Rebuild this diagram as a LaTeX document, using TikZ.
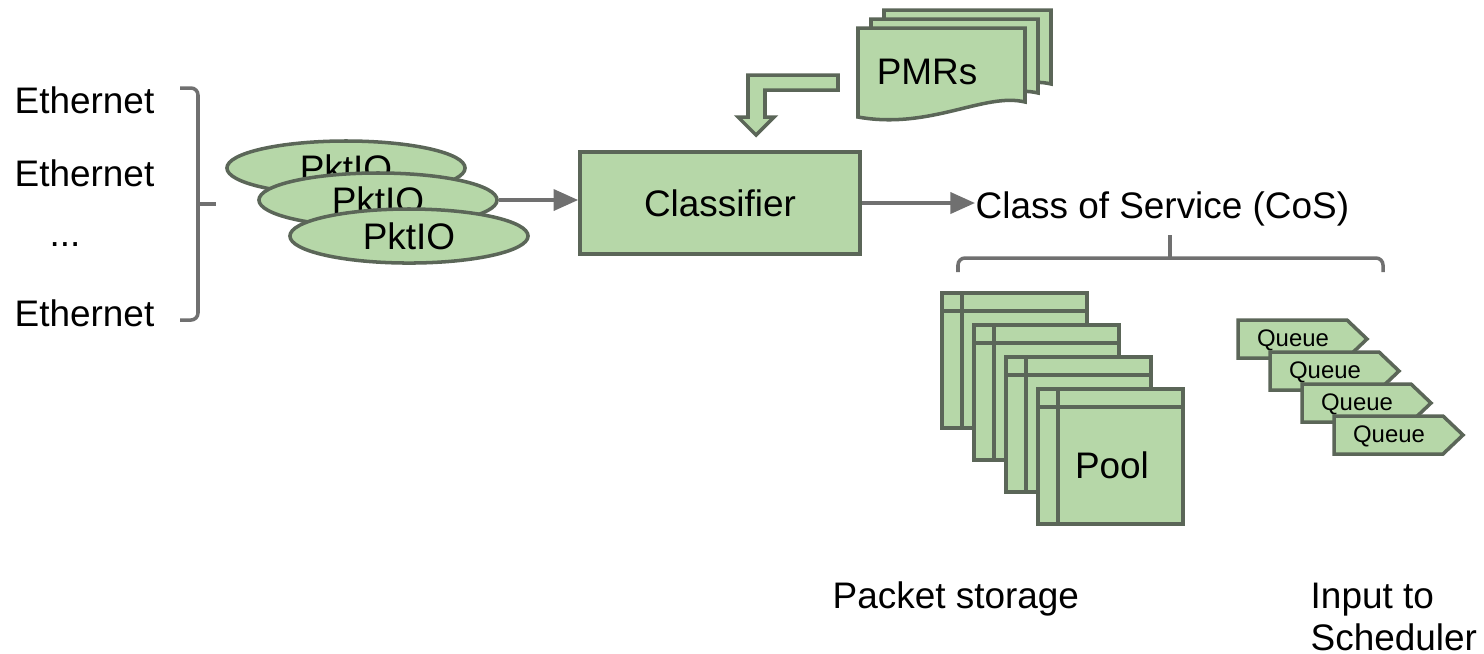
\documentclass[tikz,border=0pt]{standalone}
\usepackage{fontspec}
\setmainfont{Liberation Sans}
\usetikzlibrary{arrows.meta, positioning, shapes.geometric}
\definecolor{gfill}{HTML}{B6D7A8}
\definecolor{gedge}{HTML}{5B6658}
\definecolor{gline}{HTML}{707070}

\begin{document}
\begin{tikzpicture}[x=0.01cm, y=-0.01cm,
  box/.style={draw=gedge, fill=gfill, line width=1pt},
  lbl/.style={font=\fontsize{10.5}{12}\selectfont, inner sep=0pt},
  conn/.style={draw=gline, line width=1pt, -{Triangle[length=7pt, width=6pt]}},
  brk/.style={draw=gline, line width=1pt, rounded corners=2pt}]
\useasboundingbox (0,0) rectangle (1484,653);
% Ports
\foreach \y/\n in {113/1, 186/2, 326/3}
  \node[lbl, anchor=base west] (eth\n) at (14,\y) {Ethernet};
\node[lbl, anchor=base] (dots) at (65,246) {...};
\draw[brk] (180,88) -| (198,320) -- (180,320);
\draw[brk] (198,204) -- (216,204);
% PktIO
\foreach \i/\x/\y in {1/346/168, 2/378/200, 3/409/236}
  \node[box, lbl, ellipse, minimum width=2.38cm, minimum height=0.54cm] (pkt\i) at (\x,\y) {PktIO};
% Classifier
\node[box, lbl, minimum width=2.8cm, minimum height=1.02cm] (cls) at (720,203) {Classifier};
\draw[conn] (pkt2.east) -- (pkt2.east -| cls.west);
% PMRs
\foreach \d in {2,1,0}
  \draw[box, shift={(13*\d,-9*\d)}] (858,28) -- (1025,28) -- (1025,102)
    .. controls (985,92) and (930,130) .. (858,117) -- cycle;
\node[lbl] (pmr) at (927,72) {PMRs};
\draw[box, line join=miter] (838,75) -- (748,75) -- (748,117) -- (738,117) -- (756,135)
  -- (774,117) -- (765,117) -- (765,90) -- (838,90) -- cycle;
% CoS
\node[lbl, anchor=base west] (cos) at (975,218) {Class of Service (CoS)};
\draw[conn] (cls.east) -- (cos.west |- cls.east);
\draw[brk] (958,272) |- (1383,258) -- (1383,272);
\draw[brk] (1170,258) -- (1170,235);
% Pools
\foreach \i in {0,...,3}{
  \draw[box, shift={(32*\i,32*\i)}] (942,293) rectangle (1087,428);
  \draw[gedge, line width=1pt, shift={(32*\i,32*\i)}] (962,293) -- (962,428) (942,311) -- (1087,311);
}
\node[lbl] (pool) at (1112,465) {Pool};
% Queues
\foreach \i in {0,...,3}{
  \draw[box, shift={(32*\i,32*\i)}] (1238,320) -- (1347,320) -- (1367,339) -- (1347,358) -- (1238,358) -- cycle;
  \node[font=\fontsize{6.8}{8}\selectfont, inner sep=0pt] (q\i) at (1293+32*\i,340+32*\i) {Queue};
}
% Bottom labels
\node[lbl, anchor=base west] (store) at (832,608) {Packet storage};
\node[lbl, anchor=north west, align=left] (sched) at (1310,582) {Input to\\Scheduler};
\end{tikzpicture}
\end{document}
